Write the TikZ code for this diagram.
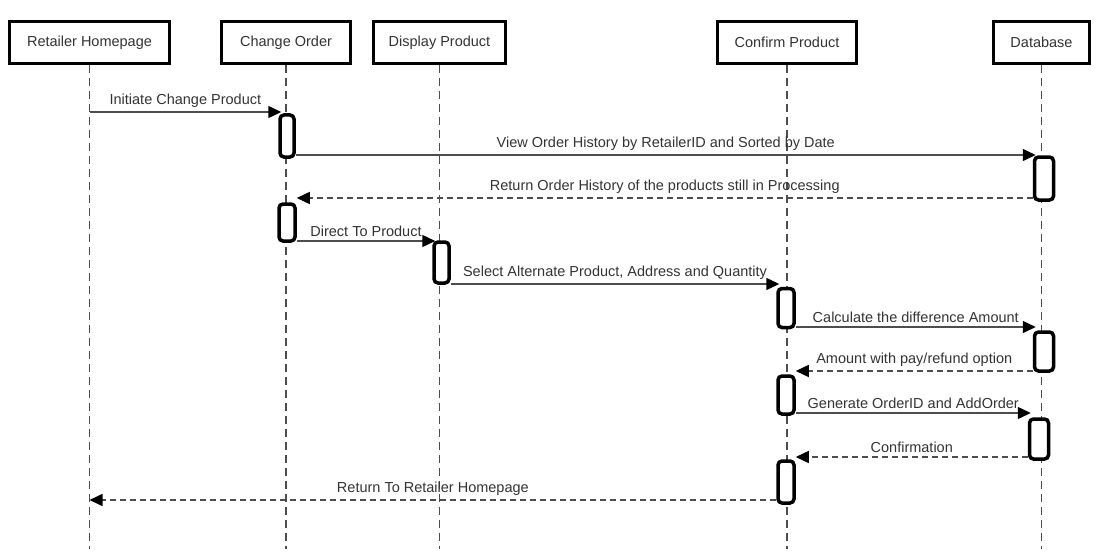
\documentclass[tikz,border=0pt]{standalone}
\usepackage{fontspec}
\setmainfont{Liberation Sans}
\usetikzlibrary{arrows.meta}
\definecolor{txt}{HTML}{333333}
\definecolor{ln}{HTML}{4D4D4D}
\begin{document}
\begin{tikzpicture}[x=1pt,y=-1pt,font=\fontsize{14.5}{16}\selectfont,
  part/.style={draw=black,line width=2.2pt,fill=white,minimum height=42pt,text=txt,inner sep=0pt},
  life/.style={draw=ln,line width=1.3pt,dash pattern=on 8pt off 5pt},
  act/.style={draw=black,line width=3.5pt,rounded corners=4pt,fill=white,inner sep=0pt},
  msg/.style={draw=ln,line width=1.5pt,-{Triangle[length=13pt,width=12pt,color=black]}},
  ret/.style={msg,dash pattern=on 6pt off 4pt},
  lbl/.style={text=txt,inner sep=0pt,midway,above=3.5pt}]
\useasboundingbox (0,0) rectangle (1102,559);
\coordinate (bot) at (0,549);
% participants
\node[part,minimum width=160pt] (rh) at (89.5,42.5) {Retailer Homepage};
\node[part,minimum width=129pt] (co) at (286,42.5) {Change Order};
\node[part,minimum width=132pt] (dp) at (439.5,42.5) {Display Product};
\node[part,minimum width=139pt] (cp) at (787,42.5) {Confirm Product};
\node[part,minimum width=96pt] (db) at (1041.5,42.5) {Database};
% lifelines
\foreach \p in {rh,co,dp,cp,db} \draw[life] (\p.south) -- (\p.south |- bot);
% activations
\node[act,minimum width=14pt,minimum height=42pt] (a1) at (287,136) {};
\node[act,minimum width=19pt,minimum height=43pt] (a2) at (1044,178.5) {};
\node[act,minimum width=16pt,minimum height=37pt] (a3) at (287,222.5) {};
\node[act,minimum width=15pt,minimum height=41pt] (a4) at (441.5,262.5) {};
\node[act,minimum width=16pt,minimum height=39pt] (a5) at (786,308) {};
\node[act,minimum width=19pt,minimum height=39pt] (a6) at (1044,351.5) {};
\node[act,minimum width=16pt,minimum height=38pt] (a7) at (786,395) {};
\node[act,minimum width=19pt,minimum height=40pt] (a8) at (1039,439) {};
\node[act,minimum width=16pt,minimum height=42pt] (a9) at (786,482) {};
% message end points on lifelines
\coordinate (m1) at (rh.south |- 0,112);
\coordinate (m19) at (rh.south |- 0,500);
% messages
\draw[msg] (m1) -- ([xshift=3pt]a1.west |- 0,112) node[lbl] {Initiate Change Product};
\draw[msg] (a1.east |- 0,155) -- ([xshift=3pt]a2.west |- 0,155) node[lbl] {View Order History by RetailerID and Sorted by Date};
\draw[ret] (a2.west |- 0,198) -- (a3.east |- 0,198) node[lbl] {Return Order History of the products still in Processing};
\draw[msg] (a3.east |- 0,241) -- ([xshift=3pt]a4.west |- 0,241) node[lbl] {Direct To Product};
\draw[msg] (a4.east |- 0,284) -- ([xshift=3pt]a5.west |- 0,284) node[lbl] {Select Alternate Product, Address and Quantity};
\draw[msg] (a5.east |- 0,327) -- ([xshift=3pt]a6.west |- 0,327) node[lbl] {Calculate the difference Amount};
\draw[ret] (a6.west |- 0,371) -- (a7.east |- 0,371) node[lbl] {Amount with pay/refund option};
\draw[msg] (a7.east |- 0,413) -- ([xshift=3pt]a8.west |- 0,413) node[lbl] {Generate OrderID and AddOrder};
\draw[ret] (a8.west |- 0,457) -- (a9.east |- 0,457) node[lbl] {Confirmation};
\draw[ret] (a9.west |- 0,500) -- (m19) node[lbl] {Return To Retailer Homepage};
\end{tikzpicture}
\end{document}
